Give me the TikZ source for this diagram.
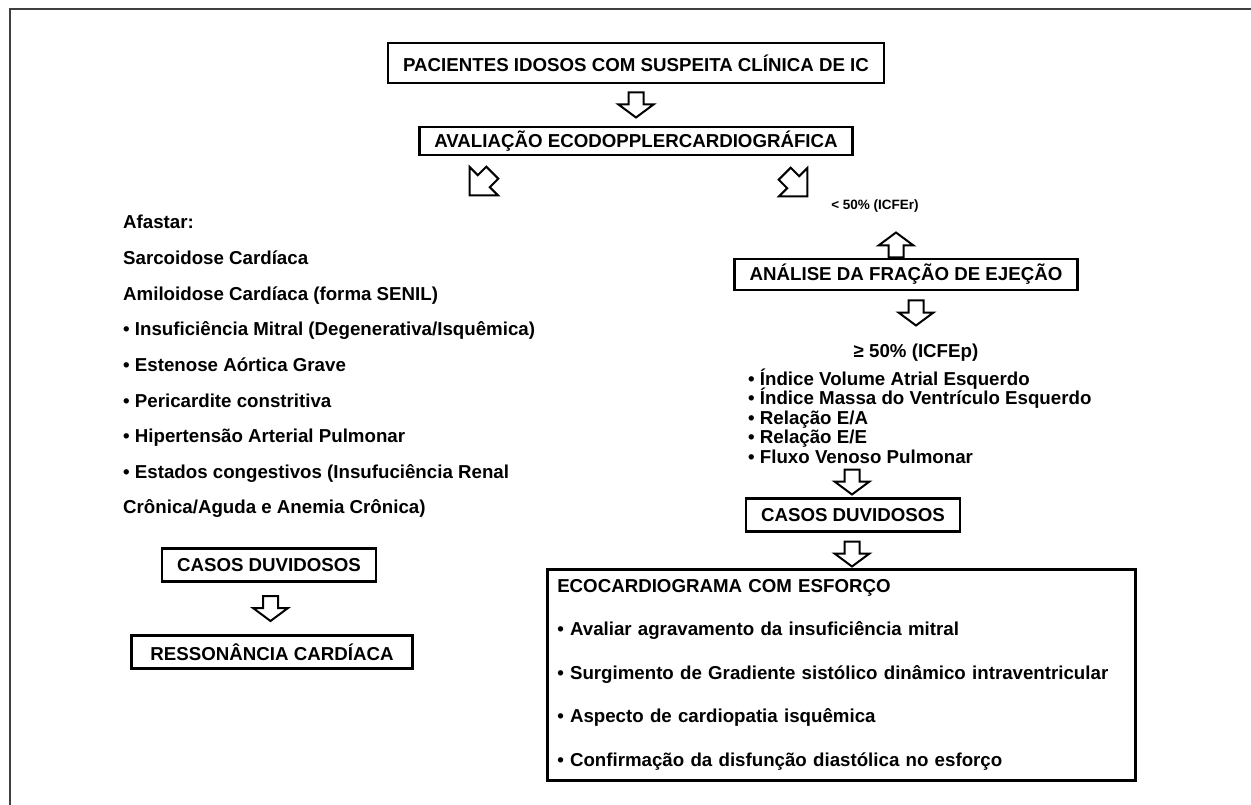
\documentclass[tikz,border=0pt]{standalone}
\usepackage{fontspec}
\setmainfont{Liberation Sans}
\usetikzlibrary{calc}
\tikzset{%
	caixa/.style={
		draw,
		line width=2.5pt,
		inner xsep=15pt,
		inner ysep=0pt,
		minimum height=#1
	},
	caixa/.default=33pt,
	linha/.style={
		anchor=base west,
		inner sep=0pt
	},
	seta/.pic={
		\draw[line width=2pt, fill=white] (-7.5,-12.5) -- (-7.5,-0.5) -- (-17.5,-0.5) -- (0,12.5) -- (17.5,-0.5) -- (7.5,-0.5) -- (7.5,-12.5) -- cycle;
	},
	setadiag/.pic={
		\draw[line width=2pt, fill=white] (-8.5,-16) -- (-8.5,-4) -- (-20,-4) -- (0,16) -- (20,-4) -- (8.5,-4) -- (8.5,-16) -- cycle;
	},
}

\begin{document}
\begin{tikzpicture}[x=1pt, y=-1pt, font=\fontsize{18.7}{19.5}\selectfont\bfseries]
			\useasboundingbox (0,0) rectangle (1251,805);
			% Frame
			\draw[line width=2pt, black!75] (9.5,805) -- (9.5,9.5) -- (1251,9.5);
			
			% Top of the chart
			\node[caixa=40pt] (pacientes) at (636,63) {PACIENTES IDOSOS COM SUSPEITA CLÍNICA DE IC};
			\node[caixa=28pt] (avaliacao) at (636,141) {AVALIAÇÃO ECODOPPLERCARDIOGRÁFICA};
			\pic at ($(pacientes.south)!0.5!(avaliacao.north)$) {seta};
			
			% Split arrows
			\pic[rotate=-45] at (481,184) {setadiag};
			\pic[rotate=45] at (796,185) {setadiag};
			
			% Left side
			\node[linha] (afastar) at (123,229) {Afastar:};
			\node[linha] (sarc) at (123,264.6) {Sarcoidose Cardíaca};
			\node[linha] (amil) at (123,300.2) {Amiloidose Cardíaca (forma SENIL)};
			\node[linha] (insuf) at (123,335.8) {• Insuficiência Mitral (Degenerativa/Isquêmica)};
			\node[linha] (esten) at (123,371.4) {• Estenose Aórtica Grave};
			\node[linha] (peric) at (123,407) {• Pericardite constritiva};
			\node[linha] (hiper) at (123,442.6) {• Hipertensão Arterial Pulmonar};
			\node[linha] (estados) at (123,478.2) {• Estados congestivos (Insufuciência Renal};
			\node[linha] (cronica) at (123,513.8) {Crônica/Aguda e Anemia Crônica)};
			
			\node[caixa] (casosesq) at (269,565) {CASOS DUVIDOSOS};
			\node[caixa, inner xsep=19pt] (ressonancia) at (272,652) {RESSONÂNCIA CARDÍACA};
			\pic at ($(casosesq.south)!0.5!(ressonancia.north)$) {seta};
			
			% Right side
			\node[font=\fontsize{13.5}{15}\selectfont\bfseries] (icfer) at (875,206) {< 50\% (ICFEr)};
			\pic[rotate=180] at (896,245) {seta};
			\node[caixa=31pt] (analise) at (906,274.5) {ANÁLISE DA FRAÇÃO DE EJEÇÃO};
			\pic at (916,313) {seta};
			\node (icfep) at (916,353) {≥ 50\% (ICFEp)};
			
			\node[linha] (ivae) at (748,385) {• Índice Volume Atrial Esquerdo};
			\node[linha] (imve) at (748,404.5) {• Índice Massa do Ventrículo Esquerdo};
			\node[linha] (relea) at (748,424) {• Relação E/A};
			\node[linha] (relee) at (748,443.5) {• Relação E/E};
			\node[linha] (fluxo) at (748,463) {• Fluxo Venoso Pulmonar};
			
			\pic at (852,482) {seta};
			\node[caixa] (casosdir) at (853,515) {CASOS DUVIDOSOS};
			\pic at (852,554) {seta};
			
			\node[caixa, anchor=north west, align=left, inner xsep=10pt, text width=568pt,
				minimum height=211pt, font=\fontsize{18.7}{43.4}\selectfont\bfseries] (eco) at (546,568)
				{ECOCARDIOGRAMA COM ESFORÇO\\
				• Avaliar agravamento da insuficiência mitral\\
				• Surgimento de Gradiente sistólico dinâmico intraventricular\\
				• Aspecto de cardiopatia isquêmica\\
				• Confirmação da disfunção diastólica no esforço};
			
		\end{tikzpicture}
\end{document}
